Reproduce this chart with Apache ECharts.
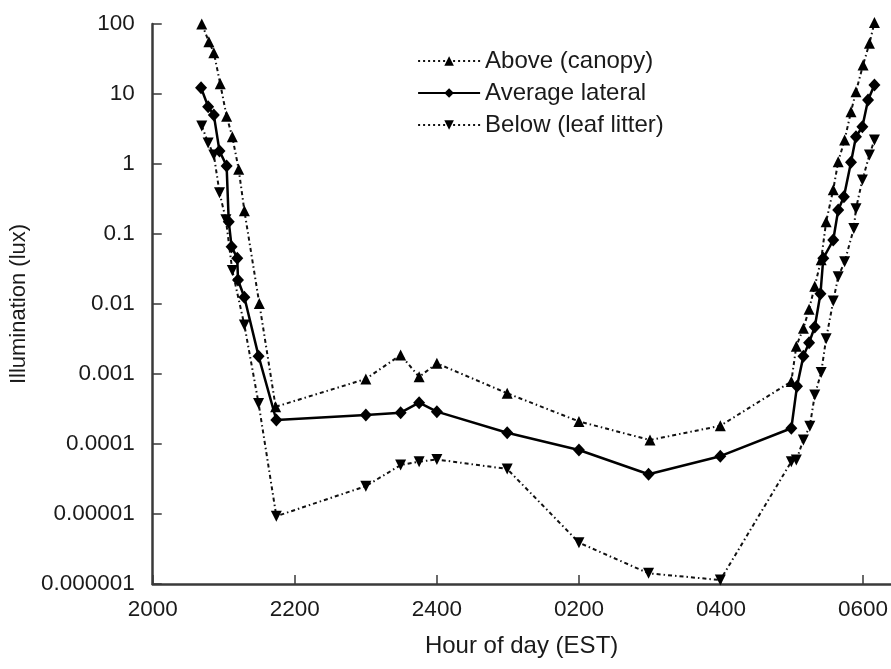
<!DOCTYPE html>
<html>
<head>
<meta charset="utf-8">
<script src="https://cdn.jsdelivr.net/npm/echarts@6/dist/echarts.min.js"></script>
<style>
html,body{margin:0;padding:0;background:#fff;}
#chart{width:891px;height:669px;}
</style>
</head>
<body>
<div id="chart"></div>
<script>
// Hours after midnight of the first day (20 = 2000, 24 = 2400, 26 = 0200 ...)
const xTickLabels = ['2000', '2200', '2400', '0200', '0400', '0600'];
const yTickLabels = ['0.000001', '0.00001', '0.0001', '0.001', '0.01', '0.1', '1', '10', '100'];
const seriesNames = ['Above (canopy)', 'Average lateral', 'Below (leaf litter)'];

const aboveHours = [20.69, 20.79, 20.86, 20.95, 21.04, 21.12, 21.21, 21.29, 21.50, 21.73,
  23.00, 23.49, 23.75, 24.00, 24.99, 26.00, 27.00, 27.99,
  28.99, 29.06, 29.16, 29.24, 29.32, 29.41, 29.48, 29.58, 29.65, 29.74, 29.83, 29.90, 30.00, 30.09, 30.16];
const aboveValues = [100, 56, 39, 14, 4.8, 2.45, 0.84, 0.215, 0.0102, 0.00034,
  0.00085, 0.00187, 0.00091, 0.00142, 0.00053, 0.00021, 0.000114, 0.000182,
  0.00078, 0.0025, 0.0045, 0.0084, 0.018, 0.043, 0.15, 0.43, 1.08, 2.2, 5.6, 10.8, 26, 53, 105];

const averageHours = [20.68, 20.78, 20.86, 20.94, 21.04, 21.07, 21.11, 21.19, 21.20, 21.29, 21.49, 21.74,
  23.00, 23.49, 23.75, 24.00, 24.99, 26.00, 26.98, 27.99,
  28.99, 29.07, 29.16, 29.24, 29.32, 29.40, 29.44, 29.58, 29.65, 29.73, 29.83, 29.90, 29.99, 30.07, 30.16];
const averageValues = [12.3, 6.6, 5.0, 1.53, 0.94, 0.15, 0.066, 0.045, 0.022, 0.0125, 0.0018, 0.00022,
  0.00026, 0.00028, 0.00039, 0.00029, 0.000145, 0.000082, 0.000037, 0.000067,
  0.000168, 0.00067, 0.0018, 0.0028, 0.0047, 0.014, 0.045, 0.082, 0.22, 0.34, 1.06, 2.45, 3.4, 8.2, 13.4];

const belowHours = [20.69, 20.78, 20.86, 20.94, 21.03, 21.12, 21.29, 21.49, 21.74,
  23.00, 23.49, 23.75, 24.00, 24.99, 26.00, 26.98, 27.99,
  28.99, 29.06, 29.16, 29.25, 29.32, 29.41, 29.48, 29.58, 29.65, 29.74, 29.87, 29.90, 29.99, 30.09, 30.16];
const belowValues = [3.5, 2.0, 1.35, 0.39, 0.16, 0.03, 0.005, 0.00038, 0.0000093,
  0.000025, 0.00005, 0.000056, 0.00006, 0.000044, 0.0000039, 0.00000142, 0.00000114,
  0.000056, 0.000059, 0.000114, 0.00018, 0.0005, 0.00105, 0.0032, 0.011, 0.0246, 0.04, 0.12, 0.23, 0.59, 1.35, 2.2];

function pairs(xs, ys) { return xs.map((x, i) => [x, ys[i]]); }

const FONT = "'Liberation Sans', Arial, Helvetica, sans-serif";
const TXT = '#1a1a1a';
const AX = '#3a3a3a';
const dotted = [4, 3, 1.5, 3];
const legendDots = [2, 3];

const chart = echarts.init(document.getElementById('chart'), null, { renderer: 'canvas' });
chart.setOption({
  backgroundColor: '#ffffff',
  animation: false,
  textStyle: { fontFamily: FONT, color: TXT },
  grid: { left: 150, right: 0, top: 24, bottom: 85, containLabel: false },
  legend: {
    orient: 'vertical',
    left: 412,
    top: 44,
    itemWidth: 62,
    itemHeight: 12,
    itemGap: 8,
    data: [
      { name: seriesNames[0], lineStyle: { type: legendDots, width: 1.8 } },
      { name: seriesNames[1] },
      { name: seriesNames[2], lineStyle: { type: legendDots, width: 2.2 } }
    ],
    textStyle: { fontSize: 24, color: TXT, fontFamily: FONT, padding: [0, 0, 0, 0] }
  },
  xAxis: {
    type: 'value',
    min: 20,
    max: 30.385,
    interval: 2,
    name: 'Hour of day (EST)',
    nameLocation: 'middle',
    nameGap: 50,
    nameTextStyle: { fontSize: 24, color: TXT, fontFamily: FONT },
    axisLine: { show: true, lineStyle: { color: AX, width: 2.5 } },
    axisTick: { show: true, inside: true, length: 9, lineStyle: { color: AX, width: 1.5 } },
    axisLabel: {
      fontSize: 22.5, color: TXT, fontFamily: FONT, margin: 14, showMaxLabel: false,
      formatter: function (v) {
        const i = (v - 20) / 2;
        return Number.isInteger(i) && i >= 0 && i < xTickLabels.length ? xTickLabels[i] : '';
      }
    },
    splitLine: { show: false }
  },
  yAxis: {
    type: 'log',
    logBase: 10,
    min: 1e-6,
    max: 100,
    name: 'Illumination (lux)',
    nameLocation: 'middle',
    nameGap: 116,
    nameRotate: 90,
    nameTextStyle: { fontSize: 22, color: TXT, fontFamily: FONT },
    axisLine: { show: true, lineStyle: { color: AX, width: 2.5 } },
    axisTick: { show: true, inside: true, length: 9, lineStyle: { color: AX, width: 1.5 } },
    axisLabel: {
      fontSize: 22.5, color: TXT, fontFamily: FONT, margin: 18,
      formatter: function (v) {
        const i = Math.round(Math.log10(v)) + 6;
        return yTickLabels[i] !== undefined ? yTickLabels[i] : '';
      }
    },
    splitLine: { show: false }
  },
  series: [
    {
      name: seriesNames[0],
      type: 'line',
      data: pairs(aboveHours, aboveValues),
      symbol: 'triangle',
      symbolSize: 11,
      itemStyle: { color: '#000' },
      lineStyle: { color: '#111', width: 2, type: dotted },
      clip: false
    },
    {
      name: seriesNames[1],
      type: 'line',
      data: pairs(averageHours, averageValues),
      symbol: 'diamond',
      symbolSize: [12, 13],
      itemStyle: { color: '#000' },
      lineStyle: { color: '#000', width: 2.5, type: 'solid' },
      clip: false
    },
    {
      name: seriesNames[2],
      type: 'line',
      data: pairs(belowHours, belowValues),
      symbol: 'triangle',
      symbolRotate: 180,
      symbolSize: 11,
      itemStyle: { color: '#000' },
      lineStyle: { color: '#111', width: 2, type: dotted },
      clip: false
    }
  ]
});
</script>
</body>
</html>
